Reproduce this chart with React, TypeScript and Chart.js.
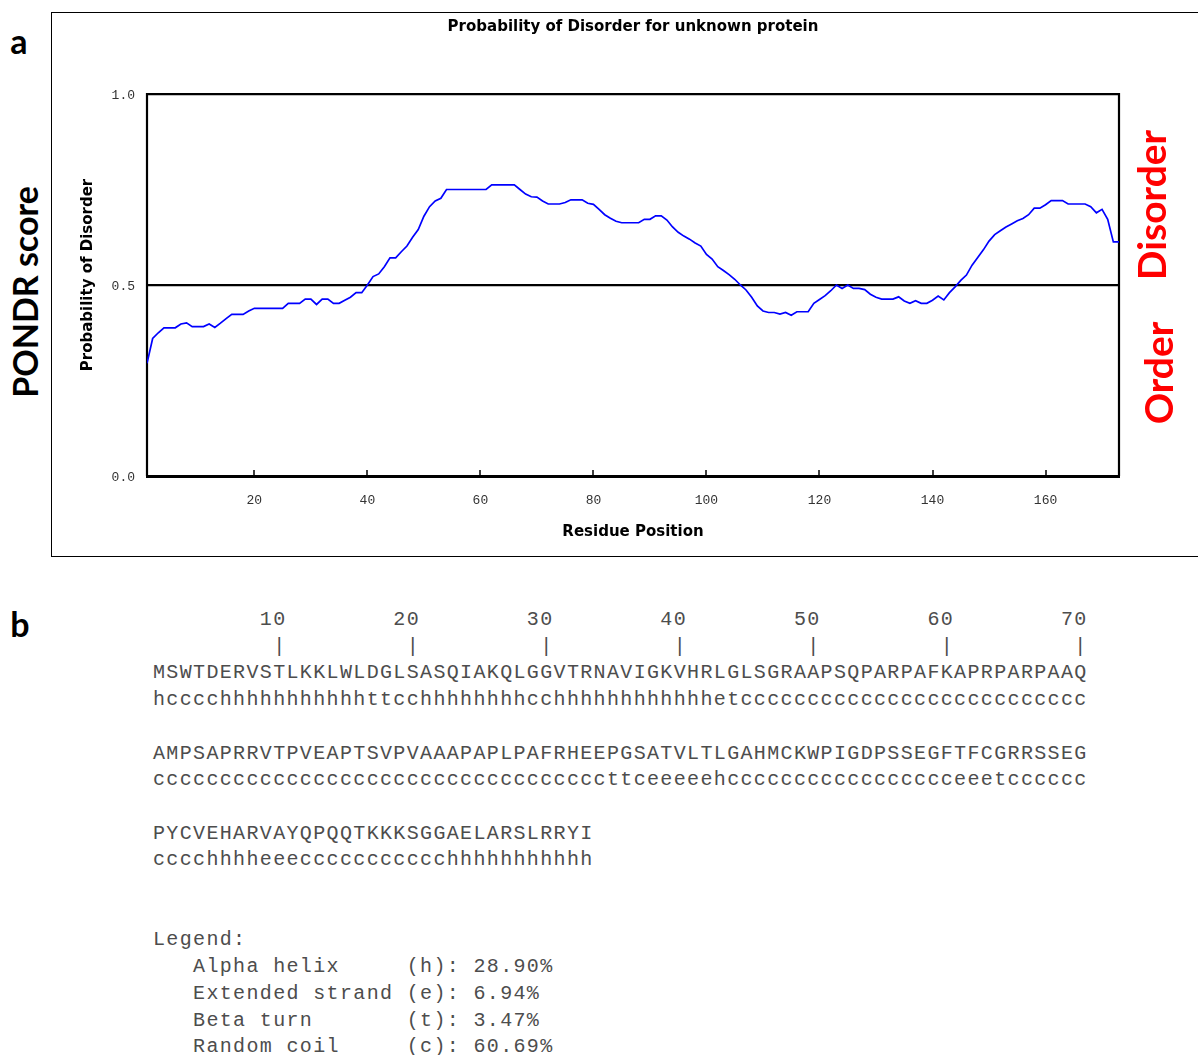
import React, { useEffect, useRef } from "react";
import { Chart, registerables } from "chart.js";

Chart.register(...registerables);

// ---------- data ----------
const chartTitle = "Probability of Disorder for unknown protein";
const xAxisTitle = "Residue Position";
const yAxisTitle = "Probability of Disorder";
const xTickValues = [20, 40, 60, 80, 100, 120, 140, 160];
const yTickValues = [0, 0.5, 1];
const residueMin = 1;
const residueMax = 173;

// PONDR score per residue (1..173)
const disorderScores = [
  0.295, 0.36, 0.375, 0.388, 0.388, 0.388, 0.398, 0.401, 0.391, 0.391,
  0.391, 0.398, 0.389, 0.4, 0.412, 0.423, 0.423, 0.423, 0.432, 0.439,
  0.439, 0.439, 0.439, 0.439, 0.439, 0.452, 0.452, 0.452, 0.463, 0.463,
  0.449, 0.463, 0.463, 0.452, 0.452, 0.46, 0.468, 0.48, 0.48, 0.5,
  0.522, 0.529, 0.548, 0.571, 0.571, 0.587, 0.602, 0.625, 0.645, 0.68,
  0.705, 0.72, 0.727, 0.75, 0.75, 0.75, 0.75, 0.75, 0.75, 0.75,
  0.75, 0.762, 0.762, 0.762, 0.762, 0.762, 0.75, 0.738, 0.731, 0.73,
  0.72, 0.712, 0.712, 0.712, 0.716, 0.723, 0.723, 0.723, 0.714, 0.711,
  0.698, 0.684, 0.675, 0.667, 0.663, 0.663, 0.663, 0.663, 0.672, 0.672,
  0.681, 0.681, 0.67, 0.652, 0.638, 0.628, 0.62, 0.61, 0.602, 0.58,
  0.568, 0.548, 0.538, 0.527, 0.515, 0.5, 0.487, 0.468, 0.445, 0.432,
  0.428, 0.428, 0.424, 0.428, 0.421, 0.43, 0.43, 0.43, 0.452, 0.462,
  0.472, 0.485, 0.5, 0.491, 0.5, 0.491, 0.491, 0.488, 0.476, 0.468,
  0.463, 0.463, 0.463, 0.469, 0.458, 0.452, 0.459, 0.452, 0.452, 0.46,
  0.471, 0.461, 0.48, 0.495, 0.512, 0.526, 0.552, 0.572, 0.592, 0.615,
  0.632, 0.642, 0.652, 0.66, 0.668, 0.674, 0.684, 0.701, 0.701, 0.71,
  0.721, 0.721, 0.721, 0.712, 0.712, 0.712, 0.712, 0.705, 0.689, 0.698,
  0.672, 0.613, 0.613,
];

// panel b text
const rulerNumbers = "        10        20        30        40        50        60        70";
const rulerTicks = "         |         |         |         |         |         |         |";
const sequenceLines = [
  "MSWTDERVSTLKKLWLDGLSASQIAKQLGGVTRNAVIGKVHRLGLSGRAAPSQPARPAFKAPRPARPAAQ",
  "AMPSAPRRVTPVEAPTSVPVAAAPAPLPAFRHEEPGSATVLTLGAHMCKWPIGDPSSEGFTFCGRRSSEG",
  "PYCVEHARVAYQPQQTKKKSGGAELARSLRRYI",
];
const structureLines = [
  "hcccc" + "hhhhhhhhhhh" + "ttcc" + "hhhhhhhh" + "cc" + "hhhhhhhhhhhh" + "et" + "cccccccccccccccccccccccccc",
  "cccccccccccccccccccccccccccccccccc" + "ttc" + "eeeeeh" + "ccccccccccccccccc" + "eeet" + "cccccc",
  "cccchhhheee" + "ccccccccccc" + "hhhhhhhhhhh",
];
const legendTitle = "Legend:";
const legendNames = ["Alpha helix", "Extended strand", "Beta turn", "Random coil"];
const legendCodes = ["h", "e", "t", "c"];
const legendPercents = ["28.90%", "6.94%", "3.47%", "60.69%"];

// ---------- chart ----------
const frameTicksPlugin = {
  id: "frameTicks",
  beforeDatasetsDraw(chart: any) {
    const { ctx, chartArea: a, scales } = chart;
    ctx.save();
    ctx.strokeStyle = "#000";
    ctx.lineWidth = 1.5;
    for (const v of xTickValues) {
      const px = Math.round(scales.x.getPixelForValue(v));
      ctx.beginPath();
      ctx.moveTo(px, a.bottom);
      ctx.lineTo(px, a.bottom - 6);
      ctx.stroke();
    }
    ctx.lineWidth = 2.2;
    ctx.beginPath();
    ctx.moveTo(a.left, a.bottom);
    ctx.lineTo(a.left, a.top);
    ctx.lineTo(a.right, a.top);
    ctx.lineTo(a.right, a.bottom);
    ctx.stroke();
    ctx.lineWidth = 3;
    ctx.beginPath();
    ctx.moveTo(a.left - 1, a.bottom + 0.5);
    ctx.lineTo(a.right + 1, a.bottom + 0.5);
    ctx.stroke();
    // y axis title
    ctx.translate(36, a.top + (a.bottom - a.top) / 2 - 10);
    ctx.rotate(-Math.PI / 2);
    ctx.fillStyle = "#000";
    ctx.font = "bold 15px 'DejaVu Sans'";
    ctx.textAlign = "center";
    ctx.textBaseline = "middle";
    ctx.fillText(yAxisTitle, 0, 0);
    ctx.restore();
  },
};

function DisorderChart() {
  const ref = useRef<HTMLCanvasElement | null>(null);
  useEffect(() => {
    if (!ref.current) return;
    const chart = new Chart(ref.current, {
      type: "line",
      data: {
        datasets: [
          {
            label: "PONDR",
            data: disorderScores.map((v, i) => ({ x: residueMin + i, y: v })),
            borderColor: "#0000ff",
            borderWidth: 1.7,
            pointRadius: 0,
            tension: 0,
            fill: false,
          },
        ],
      },
      options: {
        animation: false,
        responsive: false,
        layout: { padding: { left: 0, right: 79, top: 0, bottom: 0 } },
        plugins: {
          legend: { display: false },
          tooltip: { enabled: false },
          title: {
            display: true,
            text: chartTitle,
            color: "#000",
            fullSize: false,
            font: { family: "DejaVu Sans", weight: "bold", size: 15, lineHeight: 1.2 },
            padding: { top: 5, bottom: 58 },
          },
        },
        scales: {
          x: {
            type: "linear",
            min: residueMin,
            max: residueMax,
            afterBuildTicks: (s: any) => {
              s.ticks = xTickValues.map((v) => ({ value: v }));
            },
            afterFit: (s: any) => {
              s.height = 79;
            },
            grid: { display: false },
            border: { display: false },
            ticks: {
              autoSkip: false,
              maxRotation: 0,
              padding: 9,
              color: "#333",
              font: { family: "Liberation Mono", size: 13 },
            },
            title: {
              display: true,
              text: xAxisTitle,
              color: "#000",
              font: { family: "DejaVu Sans", weight: "bold", size: 15, lineHeight: 1.2 },
              padding: { top: 0, bottom: 14 },
            },
          },
          y: {
            type: "linear",
            min: 0,
            max: 1,
            afterBuildTicks: (s: any) => {
              s.ticks = yTickValues.map((v) => ({ value: v }));
            },
            afterFit: (s: any) => {
              s.width = 95;
            },
            grid: { color: "#000", lineWidth: 2.2, drawTicks: false },
            border: { display: false },
            ticks: {
              padding: 12,
              labelOffset: 2,
              color: "#333",
              font: { family: "Liberation Mono", size: 13 },
              callback: (v: any) => Number(v).toFixed(1),
            },
            title: { display: false },
          },
        },
      },
      plugins: [frameTicksPlugin],
    } as any);
    return () => chart.destroy();
  }, []);
  return (
    <canvas
      ref={ref}
      width={1146}
      height={542}
      style={{ position: "absolute", left: 52, top: 13, width: 1146, height: 542 }}
    />
  );
}

function Rotated(props: { text: string; cx: number; cy: number; size: number; color: string }) {
  return (
    <div
      style={{
        position: "absolute",
        left: props.cx,
        top: props.cy,
        transform: "translate(-50%, -50%) rotate(-90deg)",
        font: `bold ${props.size}px Lato`,
        color: props.color,
        whiteSpace: "nowrap",
        lineHeight: 1,
      }}
    >
      {props.text}
    </div>
  );
}

function Label(props: { text: string; cx: number; cy: number; size: number }) {
  return (
    <div
      style={{
        position: "absolute",
        left: props.cx,
        top: props.cy,
        transform: "translate(-50%, -50%)",
        font: `bold ${props.size}px Lato`,
        color: "#000",
        whiteSpace: "nowrap",
        lineHeight: 1,
      }}
    >
      {props.text}
    </div>
  );
}

export default function App() {
  const pad = (s: string, n: number) => s + " ".repeat(Math.max(0, n - s.length));
  const textLines: string[] = [rulerNumbers, rulerTicks];
  sequenceLines.forEach((seq, i) => {
    textLines.push(seq, structureLines[i], "");
  });
  textLines.push("", legendTitle);
  legendNames.forEach((n, i) => {
    textLines.push("   " + pad(n, 16) + "(" + legendCodes[i] + "): " + legendPercents[i]);
  });

  return (
    <div
      style={{
        position: "absolute",
        left: 0,
        top: 0,
        width: 1198,
        height: 1055,
        overflow: "hidden",
        background: "#fff",
      }}
    >
      <div
        style={{
          position: "absolute",
          left: 51,
          top: 12,
          width: 1200,
          height: 543,
          border: "1px solid #000",
        }}
      />
      <DisorderChart />
      <Label text="a" cx={19} cy={41} size={34} />
      <Label text="b" cx={20} cy={624} size={34} />
      <Rotated text="PONDR score" cx={25} cy={292} size={34} color="#000" />
      <Rotated text="Disorder" cx={1151} cy={205} size={39} color="#ff0000" />
      <Rotated text="Order" cx={1158} cy={373} size={39} color="#ff0000" />
      <pre
        style={{
          position: "absolute",
          left: 153,
          top: 607,
          margin: 0,
          fontFamily: "Liberation Mono",
          fontSize: 20,
          letterSpacing: 1.35,
          lineHeight: "26.7px",
          color: "#4d4d4d",
        }}
      >
        {textLines.join("\n")}
      </pre>
    </div>
  );
}
